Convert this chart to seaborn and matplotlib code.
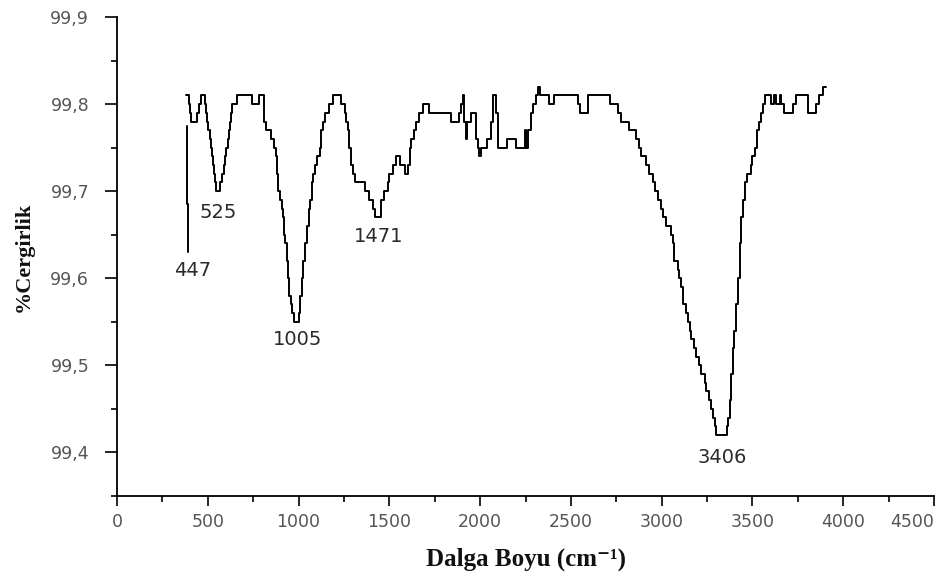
import numpy as np
import pandas as pd
import matplotlib
matplotlib.use("Agg")
import matplotlib.pyplot as plt
import seaborn as sns
from matplotlib.ticker import MultipleLocator, FuncFormatter

# ---- data: step breakpoints of the IR spectrum ----
wavenumber = [380, 395, 402, 408, 442, 452, 464, 484, 492, 496, 503, 510, 516, 522,
              528, 534, 540, 548, 570, 580, 588, 595, 602, 610, 616, 622, 628, 636,
              660, 744, 784, 808, 812, 822, 848, 866, 876, 880, 888, 898, 908, 916,
              922, 928, 934, 940, 948, 956, 966, 976, 1004, 1010, 1018, 1026, 1034,
              1044, 1056, 1064, 1072, 1080, 1092, 1100, 1116, 1124, 1134, 1148, 1166,
              1188, 1232, 1254, 1264, 1272, 1280, 1290, 1300, 1310, 1368, 1390, 1408,
              1420, 1452, 1472, 1490, 1500, 1518, 1536, 1556, 1584, 1604, 1612, 1622,
              1638, 1648, 1666, 1684, 1716, 1842, 1882, 1894, 1904, 1914, 1922, 1930,
              1950, 1978, 1986, 1994, 2004, 2040, 2060, 2070, 2090, 2100, 2146, 2200,
              2246, 2252, 2266, 2280, 2290, 2306, 2318, 2328, 2378, 2406, 2540, 2552,
              2594, 2716, 2758, 2776, 2820, 2856, 2874, 2888, 2912, 2930, 2950, 2966,
              2978, 2994, 3008, 3024, 3050, 3062, 3070, 3088, 3098, 3108, 3118, 3134,
              3144, 3154, 3164, 3180, 3190, 3208, 3218, 3236, 3246, 3262, 3272, 3282,
              3292, 3302, 3360, 3368, 3376, 3384, 3392, 3400, 3410, 3420, 3430, 3438,
              3448, 3458, 3468, 3490, 3500, 3516, 3526, 3536, 3546, 3558, 3568, 3600,
              3616, 3630, 3650, 3660, 3676, 3724, 3738, 3806, 3852, 3866, 3890, 3905]
transmittance = [99.81, 99.80, 99.79, 99.78, 99.79, 99.80, 99.81, 99.80, 99.79, 99.78,
                 99.77, 99.76, 99.75, 99.74, 99.73, 99.72, 99.71, 99.70, 99.71, 99.72,
                 99.73, 99.74, 99.75, 99.76, 99.77, 99.78, 99.79, 99.80, 99.81, 99.80,
                 99.81, 99.80, 99.78, 99.77, 99.76, 99.75, 99.74, 99.72, 99.70, 99.69,
                 99.68, 99.67, 99.65, 99.64, 99.62, 99.60, 99.58, 99.57, 99.56, 99.55,
                 99.56, 99.58, 99.60, 99.62, 99.64, 99.66, 99.68, 99.69, 99.71, 99.72,
                 99.73, 99.74, 99.75, 99.77, 99.78, 99.79, 99.80, 99.81, 99.80, 99.79,
                 99.78, 99.77, 99.75, 99.73, 99.72, 99.71, 99.70, 99.69, 99.68, 99.67,
                 99.69, 99.70, 99.71, 99.72, 99.73, 99.74, 99.73, 99.72, 99.73, 99.75,
                 99.76, 99.77, 99.78, 99.79, 99.80, 99.79, 99.78, 99.79, 99.80, 99.81,
                 99.78, 99.76, 99.78, 99.79, 99.76, 99.75, 99.74, 99.75, 99.76, 99.78,
                 99.81, 99.79, 99.75, 99.76, 99.75, 99.77, 99.75, 99.77, 99.79, 99.80,
                 99.81, 99.82, 99.81, 99.80, 99.81, 99.80, 99.79, 99.81, 99.80, 99.79,
                 99.78, 99.77, 99.76, 99.75, 99.74, 99.73, 99.72, 99.71, 99.70, 99.69,
                 99.68, 99.67, 99.66, 99.65, 99.64, 99.62, 99.61, 99.60, 99.59, 99.57,
                 99.56, 99.55, 99.54, 99.53, 99.52, 99.51, 99.50, 99.49, 99.48, 99.47,
                 99.46, 99.45, 99.44, 99.43, 99.42, 99.43, 99.44, 99.46, 99.49, 99.52,
                 99.54, 99.57, 99.60, 99.64, 99.67, 99.69, 99.71, 99.72, 99.73, 99.74,
                 99.75, 99.77, 99.78, 99.79, 99.80, 99.81, 99.80, 99.81, 99.80, 99.81,
                 99.80, 99.79, 99.80, 99.81, 99.79, 99.80, 99.81, 99.82, 99.82]

# isolated vertical trace near the 447 label
side_x = [386, 386, 390, 390]
side_y = [99.775, 99.685, 99.685, 99.63]

peak_labels = ["447", "525", "1005", "1471", "3406"]
label_x = [419, 556, 997, 1443, 3333]
label_y = [99.609, 99.675, 99.53, 99.648, 99.394]

x_ticks = [0, 500, 1000, 1500, 2000, 2500, 3000, 3500, 4000, 4500]
y_ticks = [99.4, 99.5, 99.6, 99.7, 99.8, 99.9]

# ---- plotting ----
sns.set_theme(style="white")
plt.rcParams["font.family"] = ["DejaVu Sans"]

W, H = 947, 579
left_px, right_px, top_px, bottom_px = 117, 934, 17, 496
fig = plt.figure(figsize=(W / 100, H / 100), dpi=100)
ax = fig.add_axes([left_px / W, 1 - bottom_px / H,
                   (right_px - left_px) / W, (bottom_px - top_px) / H])

main = pd.DataFrame({"x": wavenumber, "y": transmittance})
side = pd.DataFrame({"x": side_x, "y": side_y})
sns.lineplot(data=main, x="x", y="y", ax=ax, color="black", lw=1.4,
             estimator=None, sort=False, drawstyle="steps-post")
sns.lineplot(data=side, x="x", y="y", ax=ax, color="black", lw=1.4,
             estimator=None, sort=False)

for t, xx, yy in zip(peak_labels, label_x, label_y):
    ax.text(xx, yy, t, ha="center", va="center", fontsize=14, color="#2a2a2a",
            family=["DejaVu Sans"])

ax.set_xlim(0, 4500)
ax.set_ylim(99.35, 99.9)
ax.set_xticks(x_ticks)
ax.set_yticks(y_ticks)
ax.xaxis.set_minor_locator(MultipleLocator(250))
ax.yaxis.set_minor_locator(MultipleLocator(0.05))
ax.yaxis.set_major_formatter(FuncFormatter(lambda v, p: f"{v:.1f}".replace(".", ",")))
ax.tick_params(axis="x", which="major", direction="out", length=7, width=1.2,
               color="black", labelsize=12.5, labelcolor="#555555", pad=5)
ax.tick_params(axis="y", which="major", direction="out", length=9, width=1.2,
               color="black", labelsize=12.5, labelcolor="#555555", pad=11)
ax.tick_params(which="minor", direction="out", length=4, width=1.2, color="black")
ax.tick_params(which="both", bottom=True, left=True)

# last x tick label sits left of its tick so it stays inside the figure
fig.canvas.draw()
ax.get_xticklabels()[-1].set_horizontalalignment("right")

for s in ["top", "right"]:
    ax.spines[s].set_visible(False)
for s in ["left", "bottom"]:
    ax.spines[s].set_color("black")
    ax.spines[s].set_linewidth(1.3)

ax.set_xlabel("Dalga Boyu (cm⁻¹)", family=["Liberation Serif", "DejaVu Serif"],
              fontweight="bold", fontsize=18, labelpad=12, color="#111111")
ax.set_ylabel("%Cergirlik", family=["Liberation Serif", "DejaVu Serif"],
              fontweight="bold", fontsize=16, labelpad=12, color="#111111")

fig.savefig("out.png", dpi=100)
